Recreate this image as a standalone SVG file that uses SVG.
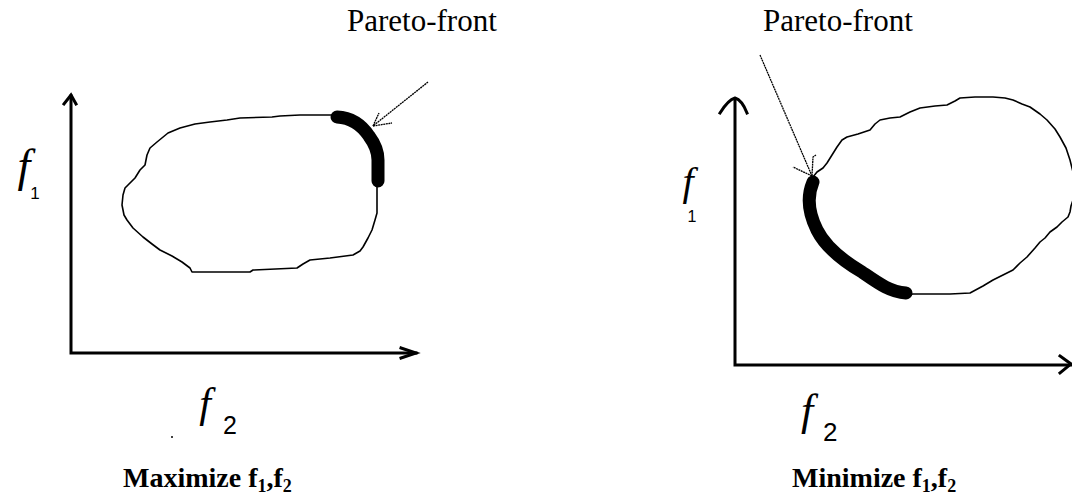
<svg xmlns="http://www.w3.org/2000/svg" width="1072" height="497" viewBox="0 0 1072 497">
<style>
.axis{fill:none;stroke:#000;stroke-width:3;stroke-linecap:square;stroke-linejoin:miter}
.blob{fill:none;stroke:#000;stroke-width:1.6;stroke-linejoin:round}
.front{fill:none;stroke:#000;stroke-width:13;stroke-linecap:round;stroke-linejoin:round}
.ptr{fill:none;stroke:#000;stroke-width:1.3;stroke-dasharray:2 0.6}
.cap{font-family:"Liberation Serif","Times New Roman",serif;font-size:31px;fill:#000}
.title{font-family:"Liberation Serif","Times New Roman",serif;font-size:28px;font-weight:bold;fill:#000}
.fn{font-family:"Liberation Serif","Times New Roman",serif;font-style:italic;fill:#000}
.sub{font-family:"Liberation Sans",Arial,sans-serif;fill:#000}
</style>
<rect width="1072" height="497" fill="#fff"/>

<g id="left-plot">
  <g id="left-axes">
    <path class="axis" d="M71,96 L71,353 L416,353"/>
    <path class="axis" d="M64,104 L71,95 L76,104"/>
    <path class="axis" d="M401,348 L416,353 L401,358"/>
  </g>
  <g id="left-region">
    <path class="blob" d="M337,115 L300,115 L280,116 L272,117 L240,118 L227,120 L210,122 L195,124 L180,128 L168,133 L157,142 L150,148 L147,155 L145,165 L140,170 L135,178 L128,185 L125,188 L123,195 L122,205 L124,215 L127,220 L133,228 L143,237 L152,244 L160,250 L172,256 L182,262 L190,268 L192,272 L250,272 L253,270 L297,268 L303,264 L310,260 L330,258 L353,255 L360,251 L363,247 L368,238 L372,230 L375,220 L377,213 L377,187"/>
  </g>
  <g id="left-front">
    <path class="front" d="M337,117 Q357,118 369,136 Q378,148 378,160 L378,181"/>
  </g>
  <g id="left-label-f1">
    <text class="fn" x="24" y="181" font-size="46" text-anchor="middle">f</text>
    <text class="sub" x="35" y="199" font-size="17" text-anchor="middle">1</text>
  </g>
  <g id="left-label-f2">
    <text class="fn" x="205" y="417" font-size="42" text-anchor="middle">f</text>
    <text class="sub" x="223" y="434" font-size="25">2</text>
    <circle cx="172" cy="437" r="1" fill="#000"/>
  </g>
  <g id="left-caption">
    <text class="cap" x="347" y="31">Pareto-front</text>
  </g>
  <g id="left-title">
    <text class="title" x="123" y="487">Maximize f<tspan font-size="18" dy="5">1</tspan><tspan dy="-5">,f</tspan><tspan font-size="18" dy="5">2</tspan></text>
  </g>
</g>

<g id="right-plot">
  <g id="right-axes">
    <path class="axis" d="M735,99 L735,365 L1071,365"/>
    <path class="axis" d="M720,113 Q728,100 735,98 Q742,100 747,113"/>
    <path class="axis" d="M1060,356 L1071,364 L1060,373"/>
  </g>
  <g id="right-region">
    <path class="blob" d="M813,177 L817,172 L823,168 L827,163 L832,155 L837,147 L842,140 L847,137 L858,134 L870,130 L875,124 L880,120 L890,118 L900,117 L910,112 L920,108 L935,106 L947,105 L955,101 L960,98 L975,97 L993,97 L1005,98 L1013,100 L1022,104 L1030,107 L1040,114 L1047,120 L1055,129 L1060,137 L1066,148 L1070,160 L1073,172 L1074,185 L1073,200 L1071,206 L1070,212 L1068,217 L1062,222 L1057,227 L1050,232 L1045,238 L1040,242 L1035,248 L1027,257 L1020,263 L1013,270 L1003,275 L993,280 L983,286 L970,293 L950,294 L913,294 L907,295"/>
  </g>
  <g id="right-front">
    <path class="front" d="M813,182 C807,196 808,212 817,230 C826,248 845,262 862,272 C878,283 890,292 906,293"/>
  </g>
  <g id="right-label-f1">
    <text class="fn" x="688" y="195" font-size="40" text-anchor="middle">f</text>
    <text class="sub" x="692" y="222" font-size="16" text-anchor="middle">1</text>
  </g>
  <g id="right-label-f2">
    <text class="fn" x="807" y="425" font-size="44" text-anchor="middle">f</text>
    <text class="sub" x="823" y="441" font-size="26">2</text>
  </g>
  <g id="right-caption">
    <text class="cap" x="763" y="31">Pareto-front</text>
  </g>
  <g id="right-title">
    <text class="title" x="792" y="487">Minimize f<tspan font-size="18" dy="5">1</tspan><tspan dy="-5">,f</tspan><tspan font-size="18" dy="5">2</tspan></text>
  </g>
</g>

<g id="connectors">
  <path class="ptr" d="M428,82 L373,126"/>
  <path class="ptr" d="M373,126 L379,113 M373,126 L392,123"/>
  <path class="ptr" d="M760,55 L812,176"/>
  <path class="ptr" d="M812,176 L793,167 M812,176 L813,157 L816,155"/>
</g>
</svg>
